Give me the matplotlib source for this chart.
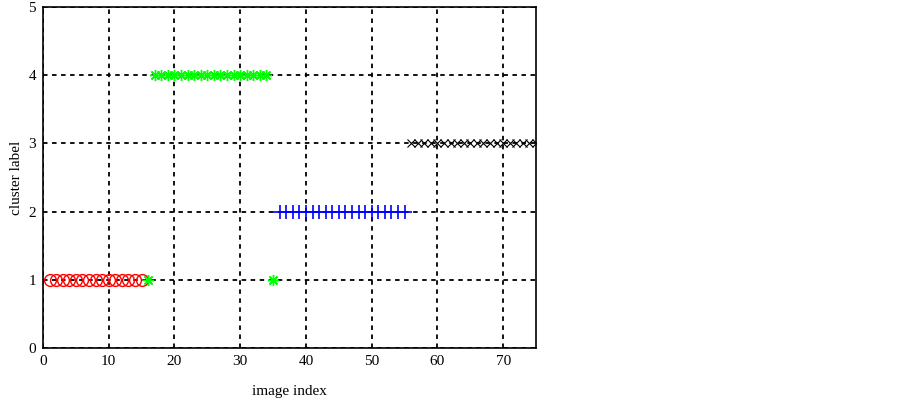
import matplotlib
matplotlib.use("Agg")
import matplotlib.pyplot as plt

plt.rcParams['font.family'] = ['Liberation Serif', 'DejaVu Serif']

red_x = list(range(1, 16))
red_y = [1] * len(red_x)
green_x = [16] + list(range(17, 35)) + [35]
green_y = [1] + [4] * 18 + [1]
blue_x = list(range(36, 56))
blue_y = [2] * len(blue_x)
black_x = list(range(56, 76))
black_y = [3] * len(black_x)

xticks = [0, 10, 20, 30, 40, 50, 60, 70]
yticks = [0, 1, 2, 3, 4, 5]

fig = plt.figure(figsize=(9.03, 4.0), dpi=100)
ax = fig.add_axes([43/903, 52/400, (536-43)/903, (348-7)/400])

ax.plot(red_x, red_y, 'o', color='red', mfc='none', ms=8.5, mew=1.0, linestyle='none', zorder=3)
ax.plot(green_x, green_y, marker=(8, 2, 0), color='#00ff00', ms=8, mew=1.0, linestyle='none', zorder=3)
ax.plot(blue_x, blue_y, '+', color='blue', ms=10, mew=1.2, linestyle='none', zorder=3)
ax.plot(black_x, black_y, 'x', color='black', ms=5.5, mew=0.8, linestyle='none', zorder=3)

ax.set_xlim(0, 75)
ax.set_ylim(0, 5)
ax.set_xticks(xticks)
ax.set_yticks(yticks)
ax.grid(True, color='black', linestyle=(0, (2.5, 2.5)), linewidth=1.3)
ax.tick_params(direction='in', length=0, labelsize=11, pad=5)
for s in ax.spines.values():
    s.set_linewidth(1.2)
ax.set_xlabel('image index', fontsize=11, labelpad=12)
ax.set_ylabel('cluster label', fontsize=11, labelpad=4)

fig.savefig('out.png', dpi=100)
